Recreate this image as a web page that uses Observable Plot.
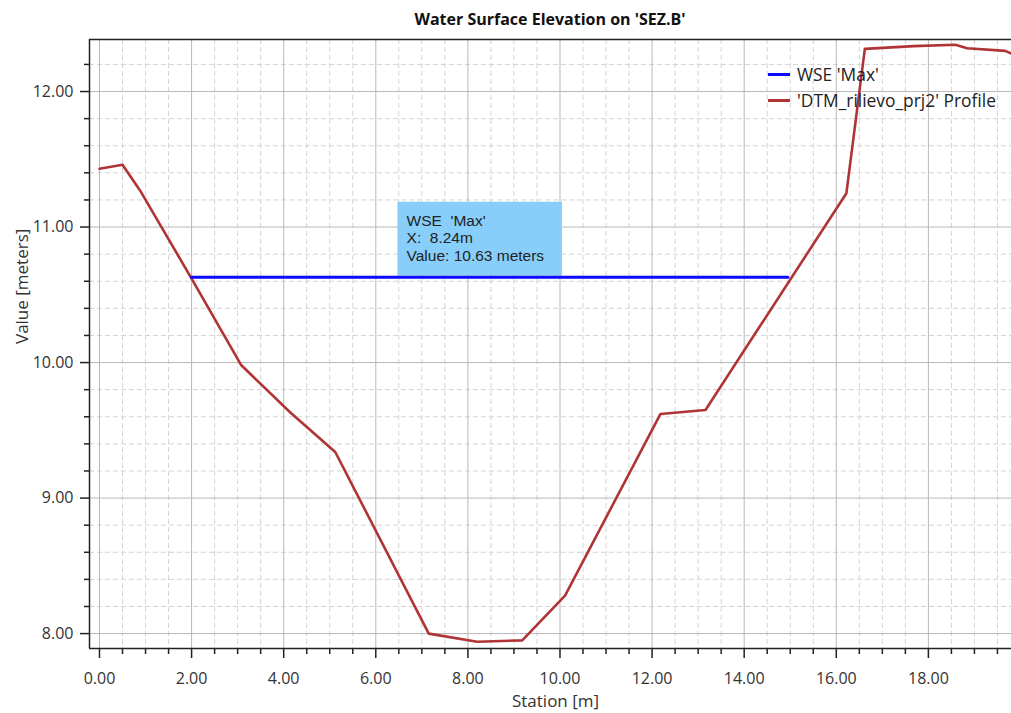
<!DOCTYPE html>
<html><head><meta charset="utf-8">
<script src="https://cdn.jsdelivr.net/npm/d3@7"></script>
<script src="https://cdn.jsdelivr.net/npm/@observablehq/plot@0.6"></script>
<style>
body{margin:0;background:#fff;}
#wrap{position:relative;width:1011px;height:713px;font-family:"Open Sans",sans-serif;overflow:hidden;}
#title{height:30px;padding-left:89px;text-align:center;font-weight:700;font-size:16px;line-height:38px;color:#111;white-space:pre;}
#legend{position:absolute;left:768px;top:61px;font-size:17.4px;color:#222;}
.li{display:flex;align-items:center;height:26px;white-space:pre;}
.sw{width:22px;height:3px;margin-right:7px;}
svg text{white-space:pre;}
</style></head>
<body>
<div id="wrap">
<div id="title"></div>
<div id="chart"></div>
<div id="legend"></div>
</div>
<script>
// ---- data ----
const titleText = "Water Surface Elevation on 'SEZ.B'";
const xLabel = "Station [m]";
const yLabel = "Value [meters]";
const profileName = "'DTM_rilievo_prj2' Profile";
const wseName = "WSE 'Max'";
const profileColor = "#b03436";
const wseColor = "#0a0aff";

const station   = [0.0, 0.5, 0.88, 2.0, 3.08, 4.15, 5.12, 7.15, 8.2, 9.18, 10.11, 12.18, 13.16, 16.22, 16.62, 17.68, 18.59, 18.84, 19.67, 19.8];
const elevation = [11.43, 11.46, 11.27, 10.62, 9.98, 9.63, 9.34, 8.0, 7.94, 7.95, 8.28, 9.62, 9.65, 11.25, 12.315, 12.335, 12.345, 12.32, 12.30, 12.28];

const wseStation = [2.0, 14.95];
const wseValue   = [10.63, 10.63];

const tipX = 8.24;
const tipValue = 10.63;

const xTicks = [0, 2, 4, 6, 8, 10, 12, 14, 16, 18];
const yTicks = [8, 9, 10, 11, 12];
const xMinor = d3.range(0, 20, 0.5).filter(v => Math.abs(v % 2) > 1e-9);
const yMinor = d3.range(8, 12.3, 0.2).map(v => +v.toFixed(1)).filter(v => Math.abs(v - Math.round(v)) > 1e-9);

const xDomain = [-0.217, 19.805];
const yDomain = [7.89, 12.384];

// ---- build ----
document.getElementById("title").textContent = titleText;

const profile = station.map((s, i) => ({x: s, y: elevation[i]}));
const wse = wseStation.map((s, i) => ({x: s, y: wseValue[i]}));
const tipLines = `WSE  'Max'\nX:  ${tipX.toFixed(2)}m\nValue: ${tipValue.toFixed(2)} meters`;

const chart = Plot.plot({
  width: 1011,
  height: 683,
  marginLeft: 89,
  marginRight: 0,
  marginTop: 9,
  marginBottom: 65,
  x: {domain: xDomain},
  y: {domain: yDomain},
  style: {fontFamily: "'Open Sans', sans-serif", fontSize: "16px", color: "#333", background: "white"},
  marks: [
    Plot.gridX(xMinor, {stroke: "#d4d4d4", strokeOpacity: 1, strokeDasharray: "5,3"}),
    Plot.gridY(yMinor, {stroke: "#d4d4d4", strokeOpacity: 1, strokeDasharray: "5,3"}),
    Plot.gridX(xTicks, {stroke: "#b8b8b8", strokeOpacity: 1}),
    Plot.gridY(yTicks, {stroke: "#b8b8b8", strokeOpacity: 1}),
    Plot.axisX(xTicks, {tickFormat: d3.format(".2f"), tickSize: 10, tickPadding: 14, label: null, stroke: "#222", strokeWidth: 1.5, fill: "#333", fontSize: 16}),
    Plot.axisX(xMinor, {tickFormat: () => "", tickSize: 6, label: null, stroke: "#222", strokeWidth: 1.5}),
    Plot.axisY(yTicks, {tickFormat: d3.format(".2f"), tickSize: 9, tickPadding: 7, label: null, stroke: "#222", strokeWidth: 1.5, fill: "#333", fontSize: 16}),
    Plot.axisY(yMinor, {tickFormat: () => "", tickSize: 5, label: null, stroke: "#222", strokeWidth: 1.5}),
    Plot.ruleY([yDomain[0], yDomain[1]], {stroke: "#222", strokeWidth: 1.5}),
    Plot.ruleX([xDomain[0]], {stroke: "#222", strokeWidth: 1.5}),
    Plot.rect([{x: tipX, y: tipValue}], {x1: "x", x2: "x", y1: "y", y2: "y", insetLeft: -81, insetRight: -83.5, insetTop: -75, insetBottom: 1, fill: "#87cefa"}),
    Plot.line(profile, {x: "x", y: "y", stroke: profileColor, strokeWidth: 2.6, clip: true}),
    Plot.line(wse, {x: "x", y: "y", stroke: wseColor, strokeWidth: 3, clip: true}),
    Plot.text([tipLines], {x: () => tipX, y: () => tipValue, text: d => d, textAnchor: "start", lineAnchor: "top", lineHeight: 1.13, dx: -72.4, dy: -64, fontFamily: "'Liberation Sans', Arial, sans-serif", fontSize: 15.5, fill: "#222"}),
    Plot.text([xLabel], {frameAnchor: "bottom", text: d => d, dx: 5, dy: 53.3, lineAnchor: "middle", fontSize: 17, fill: "#333"}),
    Plot.text([yLabel], {frameAnchor: "left", text: d => d, rotate: -90, dx: -67.4, lineAnchor: "middle", fontSize: 17, fill: "#333"})
  ]
});
document.getElementById("chart").appendChild(chart);

const legendItems = [{name: wseName, color: wseColor}, {name: profileName, color: profileColor}];
const legend = document.getElementById("legend");
for (const it of legendItems) {
  const row = document.createElement("div");
  row.className = "li";
  const sw = document.createElement("span");
  sw.className = "sw";
  sw.style.background = it.color;
  const t = document.createElement("span");
  t.textContent = it.name;
  row.appendChild(sw); row.appendChild(t);
  legend.appendChild(row);
}
</script>
</body></html>
